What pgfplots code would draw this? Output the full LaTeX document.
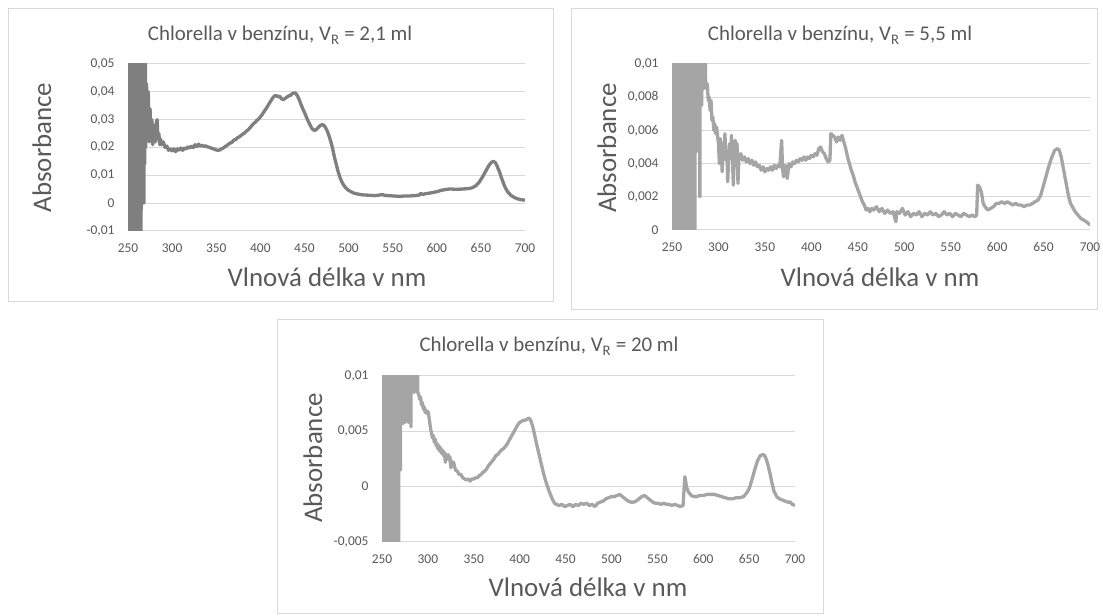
\documentclass[border=0pt]{standalone}
\usepackage{pgfplots}
\pgfplotsset{compat=1.18}
\usepackage{pgfplotstable}
\usepackage{fontspec}
\setmainfont{Carlito}
\definecolor{txt}{HTML}{595959}
\definecolor{gridc}{HTML}{D9D9D9}
\definecolor{frame}{HTML}{D9D9D9}
\definecolor{lineA}{HTML}{7F7F7F}
\definecolor{lineB}{HTML}{A5A5A5}

\pgfplotstableread[row sep=\\]{x y\\
250 0.1\\ 251 -0.1\\ 252 0.1\\ 253 -0.1\\ 254 0.1\\ 255 -0.1\\ 256 0.1\\ 257 -0.1\\ 258 0.1\\ 259 -0.1\\ 260 0.1\\ 261 -0.1\\ 262 0.1\\ 263 -0.1\\ 264 0.1\\ 264.7 -0.1\\
265 0.1\\ 265.7 0.012\\ 266.3 0.1\\ 267 0.018\\ 267.5 0.1\\ 268 0.0\\ 268.5 0.1\\ 269 0.014\\ 269.5 0.1\\ 270 0.02\\
271 0.043\\ 272 0.025\\ 273 0.040\\ 274 0.022\\ 275 0.034\\ 276 0.023\\ 277 0.030\\ 278 0.021\\ 279 0.028\\ 280 0.024\\ 281 0.022\\ 282 0.029\\ 283 0.030\\ 284 0.023\\ 285 0.025\\ 286 0.021\\ 287 0.023\\ 288 0.021\\ 290 0.022\\ 292 0.020\\ 294 0.0205\\ 296 0.019\\ 298 0.0195\\ 300 0.0188\\ 302 0.0195\\ 304 0.0185\\ 306 0.0195\\ 308 0.019\\ 310 0.0198\\ 312 0.019\\ 314 0.0198\\ 316 0.0195\\ 318 0.0203\\ 320 0.0198\\ 322 0.0205\\ 324 0.02\\ 326 0.021\\ 328 0.0203\\ 330 0.0212\\ 332 0.0205\\ 334 0.0208\\ 336 0.0204\\ 338 0.0206\\ 340 0.0202\\ 342 0.0201\\ 344 0.0198\\ 346 0.0196\\ 348 0.0194\\ 350 0.0191\\ 352 0.019\\ 354 0.0191\\ 356 0.0195\\ 358 0.0198\\ 360 0.0203\\ 362 0.0207\\ 364 0.0212\\ 366 0.0216\\ 368 0.0219\\ 370 0.0227\\ 372 0.0228\\ 374 0.0235\\ 376 0.0238\\ 378 0.0243\\ 380 0.0248\\ 382 0.0252\\ 384 0.0258\\ 386 0.0263\\ 388 0.027\\ 390 0.0277\\ 392 0.0285\\ 394 0.029\\ 396 0.0297\\ 398 0.0302\\ 400 0.031\\ 402 0.0318\\ 404 0.0328\\ 406 0.0337\\ 408 0.0347\\ 410 0.0358\\ 412 0.0368\\ 414 0.0378\\ 416 0.0385\\ 418 0.0387\\ 420 0.0382\\ 422 0.0384\\ 424 0.0375\\ 426 0.0372\\ 428 0.0376\\ 430 0.0381\\ 432 0.0385\\ 434 0.0387\\ 436 0.0393\\ 438 0.0396\\ 440 0.0395\\ 442 0.0386\\ 444 0.0372\\ 446 0.0355\\ 448 0.034\\ 450 0.0326\\ 452 0.0311\\ 454 0.0296\\ 456 0.0283\\ 458 0.0271\\ 460 0.0263\\ 462 0.0262\\ 464 0.0266\\ 466 0.0273\\ 468 0.0279\\ 470 0.0282\\ 472 0.028\\ 474 0.0271\\ 476 0.0258\\ 478 0.024\\ 480 0.022\\ 482 0.0195\\ 484 0.0165\\ 486 0.014\\ 488 0.0115\\ 490 0.0095\\ 492 0.0079\\ 494 0.0067\\ 496 0.0058\\ 498 0.0051\\ 500 0.0046\\ 503 0.0041\\ 506 0.0036\\ 510 0.0033\\ 515 0.003\\ 520 0.0029\\ 525 0.0028\\ 530 0.0027\\ 535 0.0029\\ 538 0.0031\\ 541 0.0028\\ 545 0.0027\\ 550 0.0026\\ 555 0.0025\\ 560 0.0025\\ 565 0.0026\\ 570 0.0026\\ 575 0.0027\\ 580 0.0029\\ 582 0.0035\\ 584 0.0031\\ 587 0.0034\\ 590 0.0035\\ 595 0.0038\\ 600 0.0041\\ 605 0.0046\\ 610 0.0049\\ 615 0.0051\\ 620 0.005\\ 625 0.005\\ 630 0.0051\\ 635 0.0052\\ 640 0.0055\\ 644 0.0062\\ 648 0.0075\\ 652 0.0095\\ 656 0.0118\\ 659 0.0135\\ 662 0.0147\\ 664 0.015\\ 666 0.0147\\ 668 0.0136\\ 671 0.0113\\ 674 0.0085\\ 677 0.006\\ 680 0.0042\\ 684 0.0028\\ 688 0.002\\ 692 0.0015\\ 696 0.0012\\ 700 0.0011\\
}\dataA

\pgfplotstableread[row sep=\\]{x y\\
250 0.1\\ 251 -0.1\\ 252 0.1\\ 253 -0.1\\ 254 0.1\\ 255 -0.1\\ 256 0.1\\ 257 -0.1\\ 258 0.1\\ 259 -0.1\\ 260 0.1\\ 261 -0.1\\ 262 0.1\\ 263 -0.1\\ 264 0.1\\ 265 -0.1\\ 266 0.1\\ 267 -0.1\\ 268 0.1\\ 269 -0.1\\ 270 0.1\\ 271 -0.1\\ 272 0.1\\ 273 -0.1\\ 274 0.1\\ 274.5 -0.1\\
275 0.1\\ 276 0.0047\\ 277 0.1\\ 278 0.0063\\ 279 0.1\\ 280 0.002\\ 281 0.1\\ 282 0.0075\\ 283 0.1\\ 284 0.0085\\ 285 0.1\\ 286 0.0092\\ 287 0.0085\\ 288 0.0088\\ 289 0.0078\\ 290 0.008\\ 291 0.0072\\ 292 0.0078\\ 293 0.0066\\ 294 0.0068\\ 295 0.006\\ 296 0.0064\\ 297 0.0058\\ 298 0.0062\\ 300 0.0052\\ 301 0.004\\ 302 0.0055\\ 303 0.0049\\ 304 0.0035\\ 305 0.0052\\ 306 0.0046\\ 307 0.0058\\ 308 0.0042\\ 309 0.0048\\ 310 0.0029\\ 311 0.0045\\ 312 0.0052\\ 313 0.0043\\ 314 0.0057\\ 315 0.0045\\ 316 0.0027\\ 317 0.0046\\ 318 0.0054\\ 319 0.0044\\ 320 0.0052\\ 321 0.0028\\ 322 0.0043\\ 324 0.0046\\ 326 0.0042\\ 328 0.0044\\ 330 0.0041\\ 332 0.0043\\ 334 0.004\\ 336 0.0042\\ 338 0.0039\\ 340 0.0041\\ 342 0.0038\\ 344 0.0039\\ 346 0.0036\\ 348 0.0038\\ 350 0.0035\\ 352 0.0037\\ 354 0.0036\\ 356 0.0038\\ 358 0.0036\\ 360 0.0039\\ 362 0.0037\\ 364 0.0039\\ 366 0.0038\\ 368 0.0054\\ 369 0.0037\\ 370 0.0032\\ 372 0.0039\\ 374 0.0031\\ 376 0.004\\ 378 0.0038\\ 380 0.0041\\ 382 0.004\\ 384 0.0042\\ 386 0.0041\\ 388 0.0043\\ 390 0.0042\\ 392 0.0044\\ 394 0.0042\\ 396 0.0044\\ 398 0.0043\\ 400 0.0045\\ 402 0.0044\\ 404 0.0046\\ 406 0.0045\\ 408 0.0049\\ 410 0.005\\ 412 0.0047\\ 414 0.0046\\ 416 0.0043\\ 418 0.0041\\ 420 0.0042\\ 421 0.0058\\ 423 0.0057\\ 425 0.0056\\ 427 0.0053\\ 429 0.0056\\ 431 0.0054\\ 433 0.0057\\ 435 0.0053\\ 437 0.0049\\ 439 0.0044\\ 441 0.004\\ 443 0.0036\\ 445 0.0033\\ 447 0.0029\\ 449 0.0026\\ 451 0.0023\\ 453 0.002\\ 455 0.0017\\ 457 0.0015\\ 459 0.0012\\ 461 0.0013\\ 463 0.0011\\ 465 0.0013\\ 467 0.0012\\ 470 0.0014\\ 473 0.0011\\ 476 0.0013\\ 479 0.001\\ 482 0.0012\\ 485 0.001\\ 488 0.0011\\ 491 0.0005\\ 492 0.0011\\ 495 0.001\\ 498 0.0013\\ 501 0.0009\\ 504 0.0011\\ 507 0.0008\\ 510 0.001\\ 513 0.0009\\ 516 0.0011\\ 519 0.0008\\ 522 0.001\\ 525 0.0009\\ 528 0.0011\\ 531 0.0009\\ 534 0.001\\ 537 0.0008\\ 540 0.0009\\ 543 0.0011\\ 546 0.0009\\ 549 0.001\\ 552 0.0008\\ 555 0.001\\ 558 0.0009\\ 561 0.0008\\ 564 0.001\\ 567 0.0009\\ 570 0.0008\\ 573 0.0009\\ 576 0.0008\\ 578 0.0009\\ 579 0.0027\\ 581 0.0026\\ 583 0.0023\\ 585 0.0016\\ 587 0.0014\\ 590 0.0012\\ 593 0.0013\\ 596 0.0014\\ 599 0.0016\\ 602 0.0016\\ 605 0.0017\\ 608 0.0016\\ 611 0.0017\\ 614 0.0016\\ 617 0.0015\\ 620 0.0016\\ 623 0.0015\\ 626 0.0015\\ 629 0.0014\\ 632 0.0015\\ 635 0.0015\\ 638 0.0016\\ 641 0.0017\\ 644 0.0018\\ 647 0.0021\\ 650 0.0027\\ 653 0.0033\\ 656 0.0039\\ 659 0.0044\\ 662 0.0048\\ 665 0.0049\\ 667 0.0048\\ 669 0.0044\\ 671 0.0038\\ 673 0.0032\\ 675 0.0026\\ 677 0.002\\ 679 0.0016\\ 681 0.0014\\ 684 0.0011\\ 687 0.0009\\ 690 0.0007\\ 693 0.0006\\ 696 0.0005\\ 698 0.0004\\ 700 0.0003\\
}\dataB

\pgfplotstableread[row sep=\\]{x y\\
250 0.1\\ 251 -0.1\\ 252 0.1\\ 253 -0.1\\ 254 0.1\\ 255 -0.1\\ 256 0.1\\ 257 -0.1\\ 258 0.1\\ 259 -0.1\\ 260 0.1\\ 261 -0.1\\ 262 0.1\\ 263 -0.1\\ 264 0.1\\ 265 -0.1\\ 266 0.1\\ 267 -0.1\\ 267.6 0.1\\ 268 -0.1\\
268.5 0.1\\ 269 0.0015\\ 269.5 0.1\\ 270 0.0015\\ 271 0.1\\ 271.5 0.0057\\ 272 0.1\\ 273 0.0057\\ 274 0.1\\ 275 0.0058\\ 276 0.1\\ 277 0.006\\ 278 0.1\\ 278.5 0.0058\\ 279 0.1\\ 281 0.1\\ 281.5 0.0054\\ 282 0.1\\ 283 0.0088\\ 284 0.1\\ 285 0.0085\\ 286 0.1\\ 287 0.009\\ 288 0.1\\ 289 0.0085\\ 290 0.0083\\ 291 0.0079\\ 292 0.0081\\ 293 0.0074\\ 294 0.0076\\ 295 0.007\\ 296 0.0072\\ 297 0.0067\\ 298 0.0069\\ 299 0.0066\\ 300 0.0068\\ 301 0.0064\\ 302 0.0058\\ 303 0.0052\\ 304 0.0048\\ 305 0.0044\\ 306 0.0046\\ 307 0.004\\ 308 0.0043\\ 309 0.0037\\ 310 0.0039\\ 311 0.0034\\ 312 0.0037\\ 313 0.0032\\ 314 0.0035\\ 315 0.003\\ 316 0.0033\\ 317 0.0028\\ 318 0.0031\\ 319 0.0022\\ 320 0.0029\\ 321 0.0026\\ 322 0.0029\\ 323 0.0024\\ 324 0.0027\\ 325 0.0017\\ 326 0.0023\\ 327 0.002\\ 328 0.0022\\ 330 0.0015\\ 332 0.0014\\ 334 0.0011\\ 336 0.0011\\ 338 0.0008\\ 340 0.0007\\ 342 0.0006\\ 344 0.0007\\ 346 0.0005\\ 348 0.0007\\ 350 0.0007\\ 352 0.0008\\ 354 0.0008\\ 356 0.001\\ 358 0.0011\\ 360 0.0013\\ 362 0.0014\\ 364 0.0016\\ 366 0.0019\\ 368 0.0021\\ 370 0.0023\\ 372 0.0025\\ 374 0.0028\\ 376 0.0029\\ 378 0.0031\\ 380 0.0033\\ 382 0.0034\\ 384 0.0036\\ 386 0.0038\\ 388 0.0041\\ 390 0.0044\\ 392 0.0047\\ 394 0.005\\ 396 0.0053\\ 398 0.0056\\ 400 0.0058\\ 402 0.0059\\ 404 0.006\\ 406 0.006\\ 408 0.0061\\ 410 0.0062\\ 412 0.006\\ 414 0.0055\\ 416 0.0048\\ 418 0.004\\ 420 0.0033\\ 422 0.0026\\ 424 0.0019\\ 426 0.0012\\ 428 0.0006\\ 430 0.0001\\ 432 -0.0004\\ 434 -0.0008\\ 436 -0.0012\\ 438 -0.0015\\ 440 -0.0016\\ 443 -0.0017\\ 446 -0.0016\\ 449 -0.0018\\ 452 -0.0017\\ 455 -0.0016\\ 458 -0.0018\\ 461 -0.0016\\ 464 -0.0017\\ 467 -0.0015\\ 470 -0.0016\\ 473 -0.0015\\ 476 -0.0017\\ 479 -0.0016\\ 482 -0.0018\\ 485 -0.0015\\ 488 -0.0014\\ 491 -0.0013\\ 494 -0.0011\\ 497 -0.001\\ 500 -0.0009\\ 503 -0.0009\\ 506 -0.0008\\ 509 -0.0007\\ 512 -0.0009\\ 515 -0.0011\\ 518 -0.0013\\ 521 -0.0014\\ 524 -0.0014\\ 527 -0.0013\\ 530 -0.0011\\ 533 -0.0009\\ 536 -0.0008\\ 539 -0.001\\ 542 -0.0012\\ 545 -0.0014\\ 548 -0.0015\\ 551 -0.0015\\ 554 -0.0016\\ 557 -0.0015\\ 560 -0.0016\\ 563 -0.0016\\ 566 -0.0017\\ 569 -0.0016\\ 572 -0.0017\\ 575 -0.0018\\ 578 -0.0017\\ 580 0.0009\\ 582 -0.0001\\ 584 -0.0005\\ 587 -0.0008\\ 590 -0.0009\\ 593 -0.0009\\ 596 -0.0008\\ 600 -0.0008\\ 604 -0.0007\\ 608 -0.0007\\ 612 -0.0007\\ 616 -0.0008\\ 620 -0.0009\\ 624 -0.001\\ 628 -0.0011\\ 632 -0.0011\\ 636 -0.001\\ 640 -0.001\\ 644 -0.0009\\ 647 -0.0006\\ 650 -0.0002\\ 653 0.0006\\ 656 0.0015\\ 659 0.0023\\ 662 0.0028\\ 665 0.0029\\ 667 0.0028\\ 669 0.0024\\ 671 0.0018\\ 673 0.0011\\ 675 0.0003\\ 677 -0.0004\\ 680 -0.0009\\ 683 -0.0011\\ 686 -0.0012\\ 689 -0.0013\\ 692 -0.0014\\ 695 -0.0014\\ 697 -0.0016\\ 700 -0.0017\\
}\dataC

\pgfplotsset{
  spec/.style={
    scale only axis, anchor=south west,
    xmin=250, xmax=700,
    xtick={250,300,...,700},
    scaled y ticks=false, scaled x ticks=false,
    axis line style={draw=none},
    major tick length=0pt,
    ymajorgrids, grid style={gridc, line width=1bp},
    tick label style={font=\fontsize{13.5}{15}\selectfont, text=txt},
    xticklabel style={yshift=-9bp, text height=9bp, text depth=0bp},
    yticklabel style={xshift=-10bp},
    clip=true,
  },
  specline/.style={line width=3.3bp, line join=round, no marks},
}

\begin{document}
\begin{tikzpicture}[x=1bp,y=1bp]
% frames
\draw[frame, line width=1bp] (8,314) rectangle (553,607);
\draw[frame, line width=1bp] (571,306) rectangle (1097,607);
\draw[frame, line width=1bp] (277,2) rectangle (823,296);

% panel 1
\begin{axis}[spec, at={(128bp,385bp)}, width=397bp, height=167bp,
  ymin=-0.01, ymax=0.05, ytick={-0.01,0,0.01,0.02,0.03,0.04,0.05},
  yticklabels={{-0,01},{0},{0,01},{0,02},{0,03},{0,04},{0,05}},
  xticklabels={250,300,350,400,450,500,550,600,650,700}]
\addplot[specline, lineA] table[x=x,y=y] {\dataA};
\end{axis}

% panel 2
\begin{axis}[spec, at={(672bp,386bp)}, width=418bp, height=166bp,
  ymin=0, ymax=0.01, ytick={0,0.002,0.004,0.006,0.008,0.01},
  yticklabels={{0},{0,002},{0,004},{0,006},{0,008},{0,01}},
  xticklabels={250,300,350,400,450,500,550,600,650,700}]
\addplot[specline, lineB] table[x=x,y=y] {\dataB};
\end{axis}

% panel 3
\begin{axis}[spec, at={(382bp,74bp)}, width=413bp, height=166bp,
  ymin=-0.005, ymax=0.01, ytick={-0.005,0,0.005,0.01},
  yticklabels={{-0,005},{0},{0,005},{0,01}},
  xticklabels={250,300,350,400,450,500,550,600,650,700}]
\addplot[specline, lineB] table[x=x,y=y] {\dataC};
\end{axis}

% titles
\node[anchor=base, text=txt, font=\fontsize{21}{24}\selectfont] at (280,575) {Chlorella v benzínu, V\textsubscript{R} = 2,1 ml};
\node[anchor=base, text=txt, font=\fontsize{21}{24}\selectfont] at (840,575) {Chlorella v benzínu, V\textsubscript{R} = 5,5 ml};
\node[anchor=base, text=txt, font=\fontsize{21}{24}\selectfont] at (549,264) {Chlorella v benzínu, V\textsubscript{R} = 20 ml};
% axis labels
\node[anchor=base, text=txt, font=\fontsize{27}{30}\selectfont] at (327,329) {Vlnová délka v nm};
\node[anchor=base, text=txt, font=\fontsize{27}{30}\selectfont] at (880,329) {Vlnová délka v nm};
\node[anchor=base, text=txt, font=\fontsize{27}{30}\selectfont] at (588,19) {Vlnová délka v nm};
\node[rotate=90, anchor=center, text=txt, font=\fontsize{27}{30}\selectfont] at (42,468.5) {Absorbance};
\node[rotate=90, anchor=center, text=txt, font=\fontsize{27}{30}\selectfont] at (607,468) {Absorbance};
\node[rotate=90, anchor=center, text=txt, font=\fontsize{27}{30}\selectfont] at (313,158) {Absorbance};

\pgfresetboundingbox
\path[use as bounding box] (0,0) rectangle (1103,616);
\end{tikzpicture}
\end{document}
